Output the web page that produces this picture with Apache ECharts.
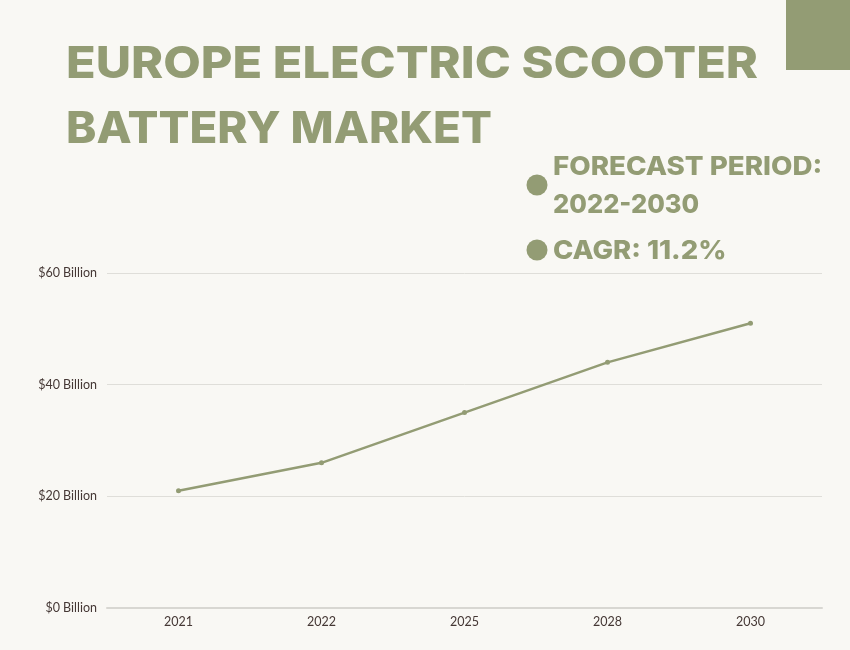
<!DOCTYPE html>
<html>
<head>
<meta charset="utf-8">
<style>
    html, body { margin: 0; padding: 0; background: #f9f8f4; }
    #chart { width: 850px; height: 650px; }
</style>
<script src="https://cdn.jsdelivr.net/npm/echarts@6/dist/echarts.min.js"></script>
</head>
<body>
<div id="chart"></div>
<script>
const years = ['2021', '2022', '2025', '2028', '2030']
const marketSize = [21, 26, 35, 44, 51]
const titleLines = ['EUROPE ELECTRIC SCOOTER', 'BATTERY MARKET']
const noteLines = ['FORECAST PERIOD:', '2022-2030', 'CAGR: 11.2%']

const green = '#939c74'
const headFont = 'Inter'

let myChart = echarts.init(document.getElementById('chart'))

// 标题和说明文字, 原图字体更宽, 用 scaleX 拉伸
function headText(text, x, y, size, stretch) {
    return {
        type: 'text',
        x: x,
        y: y,
        scaleX: stretch,
        style: {
            text: text,
            fill: green,
            font: '800 ' + size + 'px ' + headFont,
            textVerticalAlign: 'middle'
        }
    }
}

function dot(cx, cy) {
    return { type: 'circle', shape: { cx: cx, cy: cy, r: 10.5 }, style: { fill: green } }
}

let option = {
    backgroundColor: '#f9f8f4',
    animation: false,
    grid: { left: 107, right: 28, top: 273, bottom: 42 },
    graphic: [
        { type: 'rect', shape: { x: 786, y: 0, width: 64, height: 70 }, style: { fill: green } },
        headText(titleLines[0], 66, 65, 44, 1.105),
        headText(titleLines[1], 66, 130, 44, 1.04),
        headText(noteLines[0], 553, 167, 26, 1.067),
        headText(noteLines[1], 553, 205, 26, 0.98),
        headText(noteLines[2], 553, 251, 26, 1.055),
        dot(537, 185),
        dot(537, 250)
    ],
    xAxis: {
        type: 'category',
        data: years,
        axisLine: { lineStyle: { color: '#d8d7d2', width: 2 } },
        axisTick: { show: false },
        axisLabel: { color: '#453835', fontFamily: 'Lato', fontSize: 12.5, margin: 7 }
    },
    yAxis: {
        type: 'value',
        min: 0,
        max: 60,
        interval: 20,
        axisLine: { show: false },
        axisTick: { show: false },
        axisLabel: { color: '#453835', fontFamily: 'Lato', fontSize: 12.5, margin: 10, formatter: '${value} Billion' },
        splitLine: { lineStyle: { color: '#dfded9', width: 1 } }
    },
    series: [
        {
            name: 'Market size',
            type: 'line',
            data: marketSize,
            symbol: 'circle',
            symbolSize: 5,
            itemStyle: { color: green },
            lineStyle: { color: green, width: 2.5 }
        }
    ]
}

myChart.setOption(option)
</script>
</body>
</html>
